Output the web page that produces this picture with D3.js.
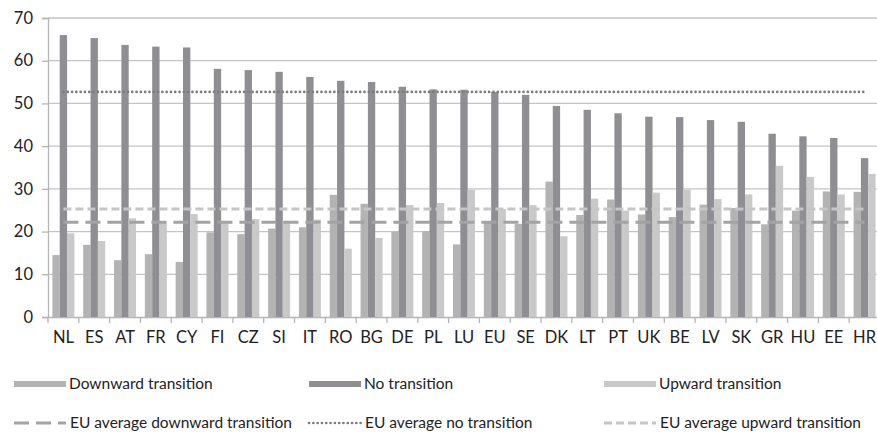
<!DOCTYPE html>
<html>
<head>
<meta charset="utf-8">
<script src="https://cdn.jsdelivr.net/npm/d3@7"></script>
<style>
  body { margin: 0; background: #fff; }
  svg { display: block; font-family: Lato, "Open Sans", sans-serif; }
</style>
</head>
<body>
<div class="chart"></div>
<script>
const countries = ["NL","ES","AT","FR","CY","FI","CZ","SI","IT","RO","BG","DE","PL","LU","EU","SE","DK","LT","PT","UK","BE","LV","SK","GR","HU","EE","HR"]
const downward = [14.5,16.9,13.3,14.7,12.9,19.8,19.4,20.7,21.0,28.6,26.5,20.0,20.1,17.0,22.2,21.8,31.7,23.9,27.5,24.0,23.4,26.3,25.5,21.7,24.9,29.4,29.3]
const noTransition = [66.0,65.3,63.7,63.3,63.1,58.1,57.8,57.4,56.2,55.3,55.0,53.9,53.3,53.2,52.7,52.0,49.4,48.5,47.7,46.9,46.8,46.1,45.7,42.9,42.3,41.9,37.2]
const upward = [19.6,17.8,23.1,22.1,24.1,22.2,22.9,22.5,22.8,16.0,18.5,26.2,26.7,29.8,25.3,26.2,18.9,27.7,24.9,29.1,29.8,27.6,28.7,35.4,32.8,28.7,33.5]
const avgDownward = 22.2
const avgNoTransition = 52.7
const avgUpward = 25.3
const yTicks = [0,10,20,30,40,50,60,70]

const seriesNames = ["Downward transition","No transition","Upward transition"]
const seriesColors = ["#b3b3b3","#8f8f93","#c9c9c9"]

const w = 877, h = 435
const padLeft = 48, padRight = 880, padTop = 18, padBottom = 317

const svg = d3.select(".chart").append("svg").attr("width",w).attr("height",h)

const x = d3.scaleBand().domain(countries).range([padLeft,padRight])
const sub = d3.scaleBand().domain([0,1,2]).range([-11,11])
const y = d3.scaleLinear().domain([0,70]).range([padBottom,padTop])

// gridlines
svg.append("g").selectAll("line").data(yTicks.filter(d=>d>0)).enter().append("line")
  .attr("x1",padLeft).attr("x2",w).attr("y1",d=>y(d)).attr("y2",d=>y(d))
  .attr("stroke","#c4c4c4").attr("stroke-width",1.3)

// y axis
const yAxis = d3.axisLeft(y).tickValues(yTicks).tickSize(6).tickPadding(9)
const gy = svg.append("g").attr("transform",`translate(${padLeft},0)`).call(yAxis)
gy.select(".domain").attr("stroke","#b5b5b5").attr("stroke-width",1.3)
gy.selectAll(".tick line").attr("stroke","#b5b5b5").attr("stroke-width",1.3)
gy.selectAll(".tick text").attr("font-size",16.5).attr("fill","#222").attr("font-family","Lato")

// x axis
const xAxis = d3.axisBottom(x).tickSize(0).tickPadding(14)
const gx = svg.append("g").attr("transform",`translate(0,${padBottom})`).call(xAxis)
gx.select(".domain").attr("stroke","#b5b5b5").attr("stroke-width",1.3)
gx.selectAll(".tick text").attr("font-size",16.5).attr("fill","#222").attr("font-family","Lato")
gx.append("g").selectAll("line").data(countries).enter().append("line")
  .attr("x1",d=>x(d)).attr("x2",d=>x(d)).attr("y1",0).attr("y2",6)
  .attr("stroke","#b5b5b5").attr("stroke-width",1.3)

// bars
const series = [downward,noTransition,upward]
series.forEach((vals,si)=>{
  svg.append("g").selectAll("rect").data(vals).enter().append("rect")
    .attr("x",(d,i)=>x(countries[i])+x.bandwidth()/2+sub(si))
    .attr("width",sub.bandwidth())
    .attr("y",d=>y(d))
    .attr("height",d=>y(0)-y(d))
    .attr("fill",seriesColors[si])
})

// EU average lines
const avgStyles = [
  {v:avgDownward, color:"#a3a3a3", dash:"15,7", width:3, cap:"butt", name:"EU average downward transition"},
  {v:avgNoTransition, color:"#7c7c7c", dash:"0.1,4.2", width:2.6, cap:"round", name:"EU average no transition"},
  {v:avgUpward, color:"#c6c6c6", dash:"8,4", width:3, cap:"butt", name:"EU average upward transition"}
]
const x0 = x(countries[0])+x.bandwidth()/2
const x1 = x(countries[countries.length-1])+x.bandwidth()/2
avgStyles.forEach(s=>{
  svg.append("line").attr("x1",x0).attr("x2",x1).attr("y1",y(s.v)).attr("y2",y(s.v))
    .attr("stroke",s.color).attr("stroke-width",s.width).attr("stroke-dasharray",s.dash)
    .attr("stroke-linecap",s.cap)
})

// legend
const colX = [14,309,604]
const leg = svg.append("g").attr("font-size",15.5).attr("fill","#222")
seriesNames.forEach((n,i)=>{
  leg.append("rect").attr("x",colX[i]).attr("y",381).attr("width",52).attr("height",6).attr("fill",seriesColors[i])
  leg.append("text").attr("x",colX[i]+55).attr("y",389).text(n)
})
avgStyles.forEach((s,i)=>{
  leg.append("line").attr("x1",colX[i]).attr("x2",colX[i]+52).attr("y1",423).attr("y2",423)
    .attr("stroke",s.color).attr("stroke-width",s.width).attr("stroke-dasharray",s.dash).attr("stroke-linecap",s.cap)
  leg.append("text").attr("x",colX[i]+56).attr("y",428).text(s.name)
})
</script>
</body>
</html>
